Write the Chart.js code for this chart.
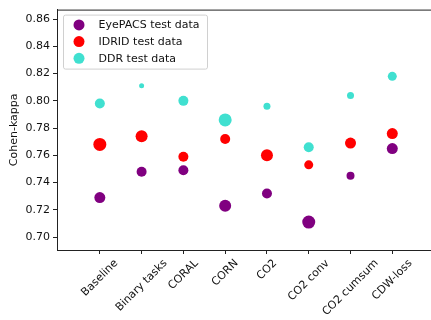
<!DOCTYPE html>
<html>
<head>
<meta charset="utf-8">
<script src="https://cdn.jsdelivr.net/npm/chart.js@4/dist/chart.umd.min.js"></script>
<style>
  html, body { margin: 0; padding: 0; background: #fff; overflow: hidden; }
  #wrap { width: 431px; height: 320px; overflow: hidden; }
  canvas { display: block; }
</style>
</head>
<body>
<div id="wrap"><canvas id="chart" width="436" height="320"></canvas></div>
<script>
// Methods on the x axis
const methods = ['Baseline', 'Binary tasks', 'CORAL', 'CORN', 'CO2', 'CO2 conv', 'CO2 cumsum', 'CDW-loss'];

// Cohen-kappa per test set
const eyepacsKappa = [0.729, 0.748, 0.749, 0.723, 0.732, 0.711, 0.745, 0.765];
const idridKappa   = [0.768, 0.774, 0.759, 0.772, 0.760, 0.753, 0.769, 0.776];
const ddrKappa     = [0.798, 0.811, 0.800, 0.786, 0.796, 0.766, 0.804, 0.818];

// marker radius per point (as plotted)
const eyepacsRadius = [5.5, 5, 5, 6, 5, 6.5, 4, 5.5];
const idridRadius   = [6.5, 6, 5, 5, 6, 4.5, 5.5, 5.5];
const ddrRadius     = [5, 2.5, 5, 6.5, 3.5, 5, 3.5, 4.5];

const yTicks = [0.70, 0.72, 0.74, 0.76, 0.78, 0.80, 0.82, 0.84, 0.86];

const FONT = { family: '"DejaVu Sans", sans-serif', size: 11 };
const CSS_FONT = '11px "DejaVu Sans", sans-serif';
const TEXT = '#111';
const AXIS = '#222';

const toPoints = (vals) => vals.map((v, i) => ({ x: i, y: v }));

// top spine (the right one falls just outside the picture)
const topSpine = {
    id: 'topSpine',
    afterDraw(chart) {
        const { ctx, chartArea } = chart;
        ctx.save();
        ctx.strokeStyle = AXIS;
        ctx.lineWidth = 1;
        ctx.beginPath();
        ctx.moveTo(chartArea.left, chartArea.top + 0.5);
        ctx.lineTo(chartArea.right, chartArea.top + 0.5);
        ctx.stroke();
        ctx.restore();
    }
};

// rotated category labels, centred under each tick
const xLabels = {
    id: 'xLabels',
    afterDraw(chart) {
        const { ctx, chartArea, scales: { x } } = chart;
        ctx.save();
        ctx.font = CSS_FONT;
        ctx.fillStyle = TEXT;
        ctx.textAlign = 'center';
        ctx.textBaseline = 'middle';
        methods.forEach((name, i) => {
            const w = ctx.measureText(name).width;
            const box = (w + 12.8) * Math.SQRT1_2;
            ctx.save();
            ctx.translate(x.getPixelForValue(i), chartArea.bottom + 7 + box / 2);
            ctx.rotate(-Math.PI / 4);
            ctx.fillText(name, 0, 0);
            ctx.restore();
        });
        ctx.restore();
    }
};

// matplotlib-style legend inside the axes
const legendBox = {
    id: 'legendBox',
    afterDatasetsDraw(chart) {
        const { ctx, chartArea } = chart;
        const x0 = chartArea.left + 6, y0 = chartArea.top + 5;
        ctx.save();
        ctx.beginPath();
        ctx.roundRect(x0 + 0.5, y0 + 0.5, 144, 54, 2);
        ctx.fillStyle = 'rgba(255,255,255,0.8)';
        ctx.fill();
        ctx.strokeStyle = '#d0d0d0';
        ctx.lineWidth = 1;
        ctx.stroke();
        ctx.font = CSS_FONT;
        ctx.textAlign = 'left';
        ctx.textBaseline = 'middle';
        chart.data.datasets.forEach((ds, i) => {
            const cy = y0 + 10.3 + i * 16.7;
            ctx.beginPath();
            ctx.arc(x0 + 16, cy, 5.5, 0, Math.PI * 2);
            ctx.fillStyle = ds.backgroundColor;
            ctx.fill();
            ctx.fillStyle = TEXT;
            ctx.fillText(ds.label, x0 + 35.5, cy + 0.5);
        });
        ctx.restore();
    }
};

new Chart(document.getElementById('chart'), {
    type: 'scatter',
    data: {
        datasets: [
            {
                label: 'EyePACS test data',
                data: toPoints(eyepacsKappa),
                backgroundColor: '#800080',
                borderWidth: 0,
                pointRadius: eyepacsRadius
            },
            {
                label: 'IDRID test data',
                data: toPoints(idridKappa),
                backgroundColor: '#ff0000',
                borderWidth: 0,
                pointRadius: idridRadius
            },
            {
                label: 'DDR test data',
                data: toPoints(ddrKappa),
                backgroundColor: '#40e0d0',
                borderWidth: 0,
                pointRadius: ddrRadius
            }
        ]
    },
    options: {
        responsive: false,
        animation: false,
        devicePixelRatio: 1,
        layout: { autoPadding: false, padding: { top: 7, left: 0, right: 0, bottom: 0 } },
        plugins: {
            legend: { display: false },
            tooltip: { enabled: false }
        },
        scales: {
            x: {
                type: 'linear',
                min: -1.025,
                max: 8.046,
                afterBuildTicks: (s) => { s.ticks = methods.map((_, i) => ({ value: i })); },
                afterFit: (s) => { s.height = 70; },
                ticks: { display: false },
                grid: { display: true, drawOnChartArea: false, drawTicks: true, tickLength: 4, color: AXIS },
                border: { display: true, color: AXIS, width: 1 }
            },
            y: {
                min: 0.6905,
                max: 0.867,
                afterBuildTicks: (s) => { s.ticks = yTicks.map(v => ({ value: v })); },
                afterFit: (s) => { s.width = 57; },
                ticks: {
                    font: FONT,
                    color: TEXT,
                    padding: 3,
                    callback: (v) => v.toFixed(2)
                },
                grid: { display: true, drawOnChartArea: false, drawTicks: true, tickLength: 4, color: AXIS },
                border: { display: true, color: AXIS, width: 1 },
                title: {
                    display: true,
                    text: 'Cohen-kappa',
                    font: FONT,
                    color: TEXT,
                    padding: { top: 8, bottom: 0 }
                }
            }
        }
    },
    plugins: [topSpine, xLabels, legendBox]
});
</script>
</body>
</html>
